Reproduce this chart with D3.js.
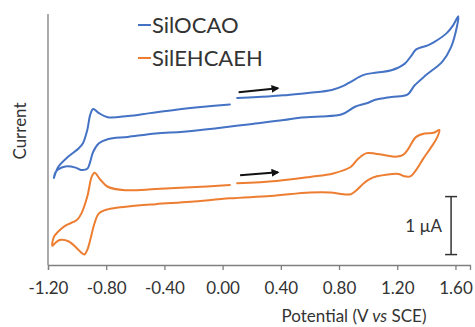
<!DOCTYPE html>
<html><head><meta charset="utf-8">
<script src="https://cdn.jsdelivr.net/npm/d3@7"></script>
<style>body{margin:0;background:#fff}svg{display:block}text{font-family:Lato,"Open Sans",sans-serif;fill:#333}</style>
</head><body><svg id="c" width="475" height="327"></svg>
<script>
// Data: potential (V vs SCE) and current (µA, offset), traced in scan order
const blueV = [0.10,0.33,0.43,0.60,0.75,0.83,0.88,0.97,1.06,1.16,1.25,1.30,1.33,1.41,1.45,1.54,1.58,1.62,
  1.61,1.57,1.51,1.40,1.32,1.27,1.16,1.05,0.99,0.91,0.82,0.67,0.53,0.42,0.19,-0.04,-0.27,-0.46,-0.65,-0.79,-0.85,-0.89,-0.91,-0.93,-0.97,-1.01,-1.08,-1.13,-1.15,-1.16,
  -1.13,-1.06,-0.99,-0.96,-0.93,-0.91,-0.89,-0.85,-0.79,-0.65,-0.50,-0.32,-0.13,0.05];
const blueI = [2.88,2.91,2.93,2.97,3.02,3.09,3.16,3.28,3.32,3.36,3.47,3.62,3.72,3.79,3.84,4.00,4.12,4.29,
  4.11,3.76,3.51,3.28,3.10,2.94,2.90,2.85,2.79,2.73,2.60,2.56,2.54,2.50,2.43,2.36,2.30,2.27,2.21,2.17,2.10,1.95,1.78,1.66,1.64,1.68,1.70,1.65,1.59,1.50,
  1.69,1.87,2.01,2.10,2.33,2.59,2.69,2.62,2.55,2.57,2.62,2.68,2.73,2.77];
const orangeV = [0.10,0.37,0.60,0.76,0.88,0.93,0.99,1.05,1.10,1.20,1.24,1.27,1.33,1.39,1.45,1.49,
  1.47,1.43,1.38,1.33,1.29,1.25,1.21,1.06,1.01,0.97,0.92,0.88,0.83,0.74,0.60,0.33,0.05,-0.22,-0.46,-0.65,-0.79,-0.85,-0.88,-0.91,-0.93,-0.95,-0.97,-0.99,-1.06,-1.12,-1.15,-1.17,
  -1.16,-1.12,-1.08,-1.00,-0.97,-0.93,-0.90,-0.88,-0.84,-0.79,-0.67,-0.46,-0.22,0.05];
const orangeI = [1.41,1.45,1.52,1.58,1.69,1.83,1.93,1.92,1.90,1.87,1.90,1.98,2.21,2.27,2.28,2.33,
  2.18,2.02,1.84,1.64,1.53,1.53,1.57,1.53,1.48,1.41,1.29,1.22,1.22,1.25,1.25,1.19,1.15,1.09,1.05,1.01,0.96,0.89,0.72,0.43,0.26,0.18,0.21,0.26,0.41,0.43,0.38,0.33,
  0.48,0.60,0.68,0.78,0.89,1.18,1.52,1.59,1.47,1.35,1.29,1.31,1.34,1.38];
const seriesNames = ["SilOCAO", "SilEHCAEH"];
const seriesColors = ["#4472C4", "#ED7D31"];
const xTicks = [-1.2,-0.8,-0.4,0.0,0.4,0.8,1.2,1.6];
const xTitle = ["Potential (V ", "vs", " SCE)"];
const yTitle = "Current";
const scaleBarLabel = "1 \u00B5A";
// arrows: [V0, I0, V1, I1]
const arrowsData = [[0.11,2.98,0.38,3.05],[0.12,1.55,0.38,1.60]];
const scaleBar = {V:1.57, I0:0.18, I1:1.18};

const svg = d3.select("#c");
const x = d3.scaleLinear().domain([-1.2,1.7]).range([48,470]);
const y = d3.scaleLinear().domain([0,4.33]).range([265,14]);

svg.append("rect").attr("width",475).attr("height",327).attr("fill","#fff");

// y axis line
svg.append("line").attr("x1",x(-1.2)).attr("x2",x(-1.2)).attr("y1",y(4.33)).attr("y2",y(0))
  .attr("stroke","#7f7f7f").attr("stroke-width",1.3);

// x axis
const xa = svg.append("g").attr("transform",`translate(0,${y(0)})`)
  .call(d3.axisBottom(x).tickValues(xTicks).tickFormat(d=>d.toFixed(2)).tickSizeOuter(0).tickSize(5).tickPadding(12));
xa.select(".domain").attr("stroke","#7f7f7f").attr("stroke-width",1.3);
xa.selectAll(".tick line").attr("stroke","#7f7f7f").attr("stroke-width",1.3);
xa.selectAll(".tick text").attr("font-size",17).attr("font-family","Lato").attr("fill","#333");

// series
const line = d3.line().x(d=>x(d[0])).y(d=>y(d[1])).curve(d3.curveCatmullRom.alpha(0.5));
const series = [d3.zip(blueV, blueI), d3.zip(orangeV, orangeI)];
series.forEach((s,i)=>{
  svg.append("path").datum(s).attr("d",line).attr("fill","none")
    .attr("stroke",seriesColors[i]).attr("stroke-width",2).attr("stroke-linejoin","round").attr("stroke-linecap","round");
});

// arrows
svg.append("defs").append("marker").attr("id","ah").attr("viewBox","0 0 10 10").attr("refX",8).attr("refY",5)
  .attr("markerWidth",4).attr("markerHeight",4).attr("orient","auto")
  .append("path").attr("d","M0,0L10,5L0,10z").attr("fill","#111");
arrowsData.forEach(a=>{
  svg.append("line").attr("x1",x(a[0])).attr("y1",y(a[1])).attr("x2",x(a[2])).attr("y2",y(a[3]))
    .attr("stroke","#111").attr("stroke-width",2).attr("marker-end","url(#ah)");
});

// scale bar
const sb = svg.append("g").attr("stroke","#333").attr("stroke-width",1.5);
sb.append("line").attr("x1",x(scaleBar.V)).attr("x2",x(scaleBar.V)).attr("y1",y(scaleBar.I0)).attr("y2",y(scaleBar.I1));
[scaleBar.I0, scaleBar.I1].forEach(v=>sb.append("line").attr("x1",x(scaleBar.V)-6).attr("x2",x(scaleBar.V)+6).attr("y1",y(v)).attr("y2",y(v)));
svg.append("text").attr("x",x(scaleBar.V)-9).attr("y",y((scaleBar.I0+scaleBar.I1)/2)).attr("dy","0.35em")
  .attr("text-anchor","end").attr("font-size",17).text(scaleBarLabel);

// legend
seriesNames.forEach((n,i)=>{
  const cy = 25 + i*33;
  svg.append("line").attr("x1",138).attr("x2",151).attr("y1",cy).attr("y2",cy)
    .attr("stroke",seriesColors[i]).attr("stroke-width",2);
  svg.append("text").attr("x",152).attr("y",cy).attr("dy","0.36em").attr("font-size",22).text(n);
});

// axis titles
const xt = svg.append("text").attr("x",354).attr("y",322).attr("text-anchor","middle").attr("font-size",17);
xt.append("tspan").text(xTitle[0]);
xt.append("tspan").attr("font-style","italic").text(xTitle[1]);
xt.append("tspan").text(xTitle[2]);
svg.append("text").attr("transform","translate(26,131) rotate(-90)").attr("text-anchor","middle").attr("font-size",17).text(yTitle);
</script></body></html>
